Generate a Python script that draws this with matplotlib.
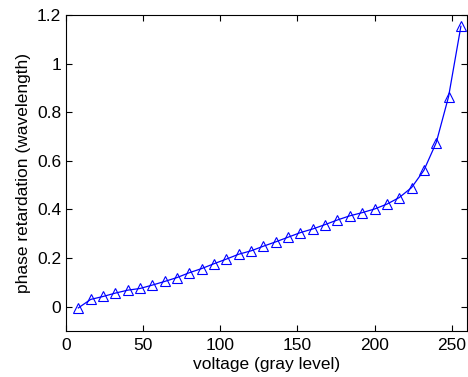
import matplotlib
matplotlib.use('Agg')
import matplotlib.pyplot as plt
import numpy as np

plt.rcParams['font.family'] = ['Liberation Sans', 'DejaVu Sans']

# gray levels and measured retardation (in wavelengths)
gray = np.arange(8, 257, 8)
retard = [-0.005, 0.03, 0.042, 0.056, 0.068, 0.075, 0.089, 0.104, 0.12, 0.14,
          0.157, 0.177, 0.196, 0.216, 0.23, 0.249, 0.267, 0.286, 0.305, 0.32,
          0.338, 0.357, 0.374, 0.387, 0.402, 0.422, 0.449, 0.49, 0.561, 0.675,
          0.864, 1.154]

xticks = [0, 50, 100, 150, 200, 250]
yticks = [0, 0.2, 0.4, 0.6, 0.8, 1.0, 1.2]
ytick_labels = ['0', '0.2', '0.4', '0.6', '0.8', '1', '1.2']

fig = plt.figure(figsize=(4.68, 3.77), dpi=100)
ax = fig.add_axes([0.141, 0.122, 0.857, 0.838])

ax.plot(gray, retard, color='blue', linewidth=0.9, marker='^', markersize=7,
        markerfacecolor='none', markeredgecolor='blue', markeredgewidth=0.8)

ax.set_xlim(0, 260)
ax.set_ylim(-0.1, 1.2)
ax.set_xticks(xticks)
ax.set_yticks(yticks)
ax.set_yticklabels(ytick_labels)
ax.tick_params(direction='in', top=True, right=True, labelsize=12.5, length=4)
ax.tick_params(axis='x', pad=5)
ax.set_xlabel('voltage (gray level)', fontsize=12.5, labelpad=3)
ax.set_ylabel('phase retardation (wavelength)', fontsize=12.5, labelpad=4)

fig.savefig('out.png', dpi=100)
